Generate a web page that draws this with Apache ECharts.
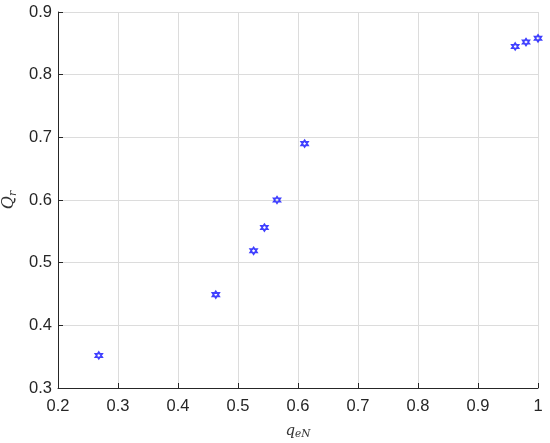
<!DOCTYPE html>
<html>
<head>
<meta charset="utf-8" />
<script src="https://cdn.jsdelivr.net/npm/echarts@6/dist/echarts.min.js"></script>
<title>Qr vs qeN</title>
<style>body{margin:0;background:#fff;}</style>
</head>
<body>
<div id="main" style="width:550px;height:443px;"></div>
<script type="text/javascript">
// data
var qeN = [0.268, 0.463, 0.526, 0.544, 0.565, 0.611, 0.962, 0.980, 1.000];
var Qr  = [0.352, 0.449, 0.519, 0.556, 0.600, 0.690, 0.845, 0.852, 0.858];
var xTicks = [0.2, 0.3, 0.4, 0.5, 0.6, 0.7, 0.8, 0.9, 1];
var yTicks = [0.3, 0.4, 0.5, 0.6, 0.7, 0.8, 0.9];

var pts = [];
for (var i = 0; i < qeN.length; i++) pts.push([qeN[i], Qr[i]]);

// six pointed star outline (matlab hexagram)
var hexagram = 'path://M0,-10 L2.887,-5 L8.66,-5 L5.774,0 L8.66,5 L2.887,5 L0,10 L-2.887,5 L-8.66,5 L-5.774,0 L-8.66,-5 L-2.887,-5 Z';

var myChart = echarts.init(document.getElementById('main'));
var font = 'Liberation Sans';
var option = {
    animation: false,
    grid: { left: 58, right: 12, top: 12, bottom: 55, outerBoundsMode: 'none', containLabel: false },
    xAxis: {
        type: 'value',
        min: xTicks[0], max: xTicks[xTicks.length - 1], interval: 0.1,
        name: '{i|q}{s|eN}',
        nameLocation: 'middle', nameGap: 34,
        nameTextStyle: {
            rich: {
                i: { fontFamily: 'DejaVu Serif', fontStyle: 'italic', fontSize: 15, color: '#333' },
                s: { fontFamily: 'DejaVu Serif', fontStyle: 'italic', fontSize: 10.5, color: '#333', verticalAlign: 'bottom', padding: [7, 0, 0, 0] }
            }
        },
        axisLine: { lineStyle: { color: '#262626', width: 1 } },
        axisTick: { inside: true, length: 5, lineStyle: { color: '#262626' } },
        axisLabel: { color: '#262626', fontSize: 16.5, fontFamily: font, margin: 10,
            formatter: function (v) { return +v.toFixed(1) + ''; } },
        splitLine: { lineStyle: { color: '#dcdcdc', width: 1 } }
    },
    yAxis: {
        type: 'value',
        min: yTicks[0], max: yTicks[yTicks.length - 1], interval: 0.1,
        name: '{i|Q}{s|r}',
        nameLocation: 'middle', nameGap: 36, nameRotate: 90,
        nameTextStyle: {
            rich: {
                i: { fontFamily: 'DejaVu Serif', fontStyle: 'italic', fontSize: 16, color: '#333' },
                s: { fontFamily: 'DejaVu Serif', fontStyle: 'italic', fontSize: 11, color: '#333', padding: [7, 0, 0, 0] }
            }
        },
        axisLine: { show: true, lineStyle: { color: '#262626', width: 1 } },
        axisTick: { show: true, inside: true, length: 5, lineStyle: { color: '#262626' } },
        axisLabel: { color: '#262626', fontSize: 16.5, fontFamily: font, margin: 6,
            formatter: function (v) { return +v.toFixed(1) + ''; } },
        splitLine: { lineStyle: { color: '#dcdcdc', width: 1 } }
    },
    series: [{
        type: 'scatter',
        data: pts,
        symbol: hexagram,
        symbolSize: 6.5,
        itemStyle: { color: 'rgba(0,0,0,0)', borderColor: '#1010ff', borderWidth: 1.8 }
    }]
};
myChart.setOption(option);
</script>
</body>
</html>
